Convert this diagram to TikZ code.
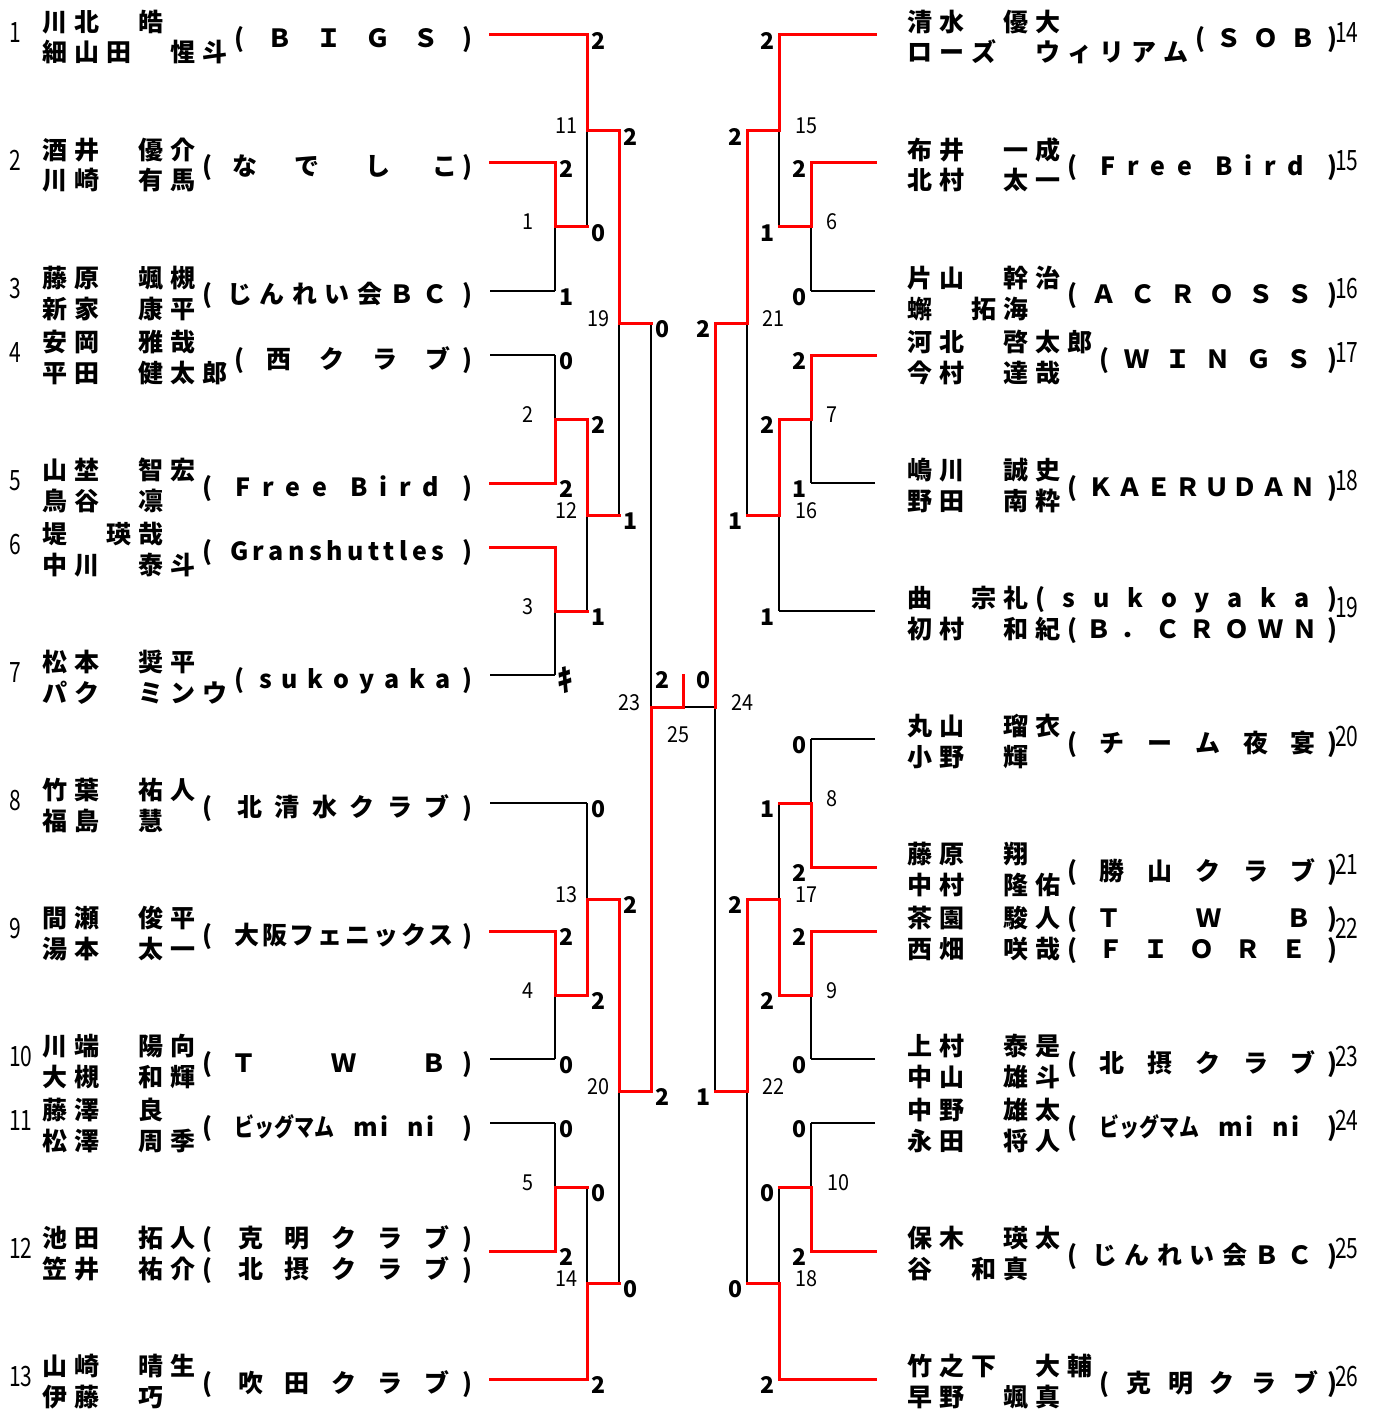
\documentclass[tikz,border=0pt]{standalone}
\usepackage{fontspec}
\usepackage{graphicx}
\newfontfamily\jp{Noto Sans CJK JP}
\newfontfamily\jpnum{Noto Sans CJK JP}[FakeStretch=0.75]
\newfontfamily\jplbl{Noto Sans CJK JP}[FakeStretch=0.9]
\makeatletter
\newcommand\grid[1]{\@tfor\grid@c:=#1\do{\makebox[32pt][l]{\grid@c}}}
\makeatother
\newcommand\gp{\hskip 0pt plus 1fill\relax}
\newcommand\sk[1]{\hskip 0pt plus #1fill\relax}
\newcommand\team[2]{\makebox[#1pt][s]{#2}}
\newcommand\bigmam{\scalebox{0.8}[1]{ビッグマム}}
\tikzset{
 lose/.style={draw=black, line width=1.3pt},
 win/.style={draw=red, line width=3pt, line cap=rect, line join=miter},
 nm/.style={inner sep=0pt, anchor=west, font=\jp\bfseries\fontsize{25pt}{25pt}\selectfont, text height=21.5pt, text depth=3.5pt},
 scL/.style={inner sep=0pt, anchor=west, font=\jp\bfseries\fontsize{23pt}{23pt}\selectfont, text height=16.8pt, text depth=0pt},
 scR/.style={scL, anchor=east},
 lbl/.style={inner sep=0pt, font=\jplbl\fontsize{22pt}{22pt}\selectfont, text height=16pt, text depth=0pt},
 eno/.style={inner sep=0pt, anchor=west, font=\jpnum\fontsize{28pt}{28pt}\selectfont, text height=20.5pt, text depth=0pt},
}
\newcommand\entry[9]{%
 \node[nm] (na#1) at (#2,#3-12.5) {\grid{#4}};
 \node[nm] (nb#1) at (#2,#3+18) {\grid{#5}};
 \node[nm] (t#1) at (#6,#3+4) {\team{#7}{#8}};
 \node[eno] (no#1) at (#9,#3-3) {#1};
}
\begin{document}
\begin{tikzpicture}[x=1pt,y=-1pt]
\fill[white] (0,0) rectangle (1381,1412);
\useasboundingbox (0,0) rectangle (1381,1412);

% entry line ends
\foreach \i/\L in {1/35,2/163,3/291,4/355,5/483,6/547,7/675,8/803,9/931,10/1059,11/1123,12/1251,13/1379}
  \coordinate (e\i) at (490,\L);
\foreach \i/\L in {14/35,15/163,16/291,17/355,18/483,19/611,20/739,21/867,22/931,23/1059,24/1123,25/1251,26/1379}
  \coordinate (e\i) at (875,\L);

% matches
\foreach \n/\x/\t/\b in {1/555/163/291,2/555/355/483,3/555/547/675,4/555/931/1059,5/555/1123/1251,
  11/587/35/227,12/587/419/611,13/587/803/995,14/587/1187/1379,19/619/131/515,20/619/899/1283,23/651/323/1091,
  6/811/163/291,7/811/355/483,8/811/739/867,9/811/931/1059,10/811/1123/1251,
  15/779/35/227,16/779/419/611,17/779/803/995,18/779/1187/1379,21/747/131/515,22/747/899/1283,24/715/323/1091}
{
  \coordinate (m\n-t) at (\x,\t);
  \coordinate (m\n-b) at (\x,\b);
  \coordinate (m\n-m) at (\x,{(\t+\b)/2});
}
\coordinate (fc) at (683,707);
\coordinate (fk) at (683,675);

% black lines
\foreach \n in {1,2,3,4,5,11,12,13,14,19,20,23,6,7,8,9,10,15,16,17,18,21,22,24}
  \draw[lose] (m\n-t) -- (m\n-b);
\foreach \e/\m in {3/m1-b,4/m2-t,7/m3-b,8/m13-t,10/m4-b,11/m5-t,16/m6-b,18/m7-b,19/m16-b,20/m8-t,23/m9-b,24/m10-t}
  \draw[lose] (e\e) -- (\m);
\draw[lose] (m23-m) -- (m24-m);

% red lines
\foreach \e/\m in {1/m11-t,2/m1-t,5/m2-b,6/m3-t,9/m4-t,12/m5-b,13/m14-b,14/m15-t,15/m6-t,17/m7-t,21/m8-b,22/m9-t,25/m10-b,26/m18-b}
  \draw[win] (e\e) -- (\m);
\foreach \n/\w in {1/t,2/b,3/t,4/t,5/b,11/t,12/t,13/b,14/b,19/t,20/t,23/b,6/t,7/t,8/b,9/t,10/b,15/t,16/t,17/b,18/b,21/t,22/t,24/t}
  \draw[win] (m\n-\w) -- (m\n-m);
\foreach \c/\p in {1/11-b,2/12-t,3/12-b,4/13-b,5/14-t,11/19-t,12/19-b,13/20-t,14/20-b,19/23-t,20/23-b,
  6/15-b,7/16-t,8/17-t,9/17-b,10/18-t,15/21-t,16/21-b,17/22-t,18/22-b,21/24-t,22/24-b}
  \draw[win] (m\c-m) -- (m\p);
\draw[win] (m23-m) -- (fc) -- (fk);

% scores
\foreach \n/\a/\b in {1/2/1,2/0/2,4/2/0,5/0/2,11/2/0,12/2/1,13/0/2,14/0/2,19/2/1,20/2/0,23/0/2}{
  \node[scL] (sc\n-t) at ([shift={(4,6)}]m\n-t) {\a};
  \node[scL] (sc\n-b) at ([shift={(4,6)}]m\n-b) {\b};
}
\node[scL] (sc3-b) at ([shift={(2,8)}]m3-b) {\scalebox{1.35}{ｷ}};
\foreach \n/\a/\b in {6/2/0,7/2/1,8/0/2,9/2/0,10/0/2,15/2/1,16/2/1,17/1/2,18/0/2,21/2/1,22/2/0,24/2/1}{
  \node[scR] (sc\n-t) at ([shift={(-4,6)}]m\n-t) {\a};
  \node[scR] (sc\n-b) at ([shift={(-4,6)}]m\n-b) {\b};
}
\node[scL] (sc25-l) at ([shift={(4,-27)}]m23-m) {2};
\node[scR] (sc25-r) at ([shift={(-4,-27)}]m24-m) {0};

% match labels
\foreach \n/\x/\y in {1/528/222,2/528/414,3/528/606,4/528/990,5/528/1182,11/566/126,12/566/510,13/566/894,14/566/1278,
  19/598/318,20/598/1086,23/629/702,6/832/222,7/832/414,8/832/798,9/832/990,10/838/1182,15/806/126,16/806/510,
  17/806/894,18/806/1278,21/773/318,22/773/1086,24/742/702,25/678/734}
  \node[lbl] (lb\n) at (\x,\y) {\n};

% left entries
\entry{1}{42}{35}{川北　皓}{細山田　惺斗}{234}{238}{(\gp Ｂ\gp Ｉ\gp Ｇ\gp Ｓ\gp)}{9}
\entry{2}{42}{163}{酒井　優介}{川崎　有馬}{202}{270}{(\sk{4}な\sk{7}で\sk{9}し\sk{8}こ\sk{1})}{9}
\entry{3}{42}{291}{藤原　颯槻}{新家　康平}{202}{270}{(\sk{2}じ\gp ん\gp れ\gp い\gp 会\gp Ｂ\gp Ｃ\sk{2})}{9}
\entry{4}{42}{355}{安岡　雅哉}{平田　健太郎}{234}{238}{(\sk{2}西\sk{2.5}ク\sk{2.5}ラ\sk{2.5}ブ\sk{1})}{9}
\entry{5}{42}{483}{山埜　智宏}{鳥谷　凛}{202}{270}{(\sk{2}F\gp r\gp e\gp e\sk{2}B\gp i\gp r\gp d\sk{2})}{9}
\entry{6}{42}{547}{堤　瑛哉}{中川　泰斗}{202}{270}{(\sk{4}G\gp r\gp a\gp n\gp s\gp h\gp u\gp t\gp t\gp l\gp e\gp s\sk{4})}{9}
\entry{7}{42}{675}{松本　奨平}{パク　ミンウ}{234}{238}{(\sk{1.5}s\gp u\gp k\gp o\gp y\gp a\gp k\gp a\sk{1.2})}{9}
\entry{8}{42}{803}{竹葉　祐人}{福島　慧}{202}{270}{(\sk{2}北\gp 清\gp 水\gp ク\gp ラ\gp ブ\gp)}{9}
\entry{9}{42}{931}{間瀬　俊平}{湯本　太一}{202}{270}{(\sk{8}大\gp 阪\gp フ\gp ェ\gp ニ\gp ッ\gp ク\gp ス\sk{3})}{9}
\entry{10}{42}{1059}{川端　陽向}{大槻　和輝}{202}{270}{(\sk{1.2}Ｔ\sk{4.7}Ｗ\sk{4.1}Ｂ\sk{1})}{9}
\entry{11}{42}{1123}{藤澤　良}{松澤　周季}{202}{270}{(\sk{8}\bigmam\sk{7}m\gp i\sk{7}n\gp i\sk{10})}{9}
\node[nm] (na12) at (42,1238.5) {\grid{池田　拓人}};
\node[nm] (t12a) at (202,1238.5) {\team{270}{(\sk{1.2}克\gp 明\gp ク\gp ラ\gp ブ\sk{0.6})}};
\node[nm] (nb12) at (42,1269) {\grid{笠井　祐介}};
\node[nm] (t12b) at (202,1269) {\team{270}{(\sk{1.2}北\gp 摂\gp ク\gp ラ\gp ブ\sk{0.6})}};
\node[eno] (no12) at (9,1248) {12};
\entry{13}{42}{1379}{山崎　晴生}{伊藤　巧}{202}{270}{(\sk{1.2}吹\gp 田\gp ク\gp ラ\gp ブ\sk{0.6})}{9}

% right entries
\entry{14}{907}{35}{清水　優大}{ローズ　ウィリアム}{1195}{142}{(\gp Ｓ\gp Ｏ\gp Ｂ\gp)}{1335}
\entry{15}{907}{163}{布井　一成}{北村　太一}{1067}{270}{(\sk{2}F\gp r\gp e\gp e\sk{2}B\gp i\gp r\gp d\sk{2})}{1335}
\entry{16}{907}{291}{片山　幹治}{蠏　拓海}{1067}{270}{(\gp Ａ\gp Ｃ\gp Ｒ\gp Ｏ\gp Ｓ\gp Ｓ\gp)}{1335}
\entry{17}{907}{355}{河北　啓太郎}{今村　達哉}{1099}{238}{(\gp Ｗ\gp Ｉ\gp Ｎ\gp Ｇ\gp Ｓ\gp)}{1335}
\entry{18}{907}{483}{嶋川　誠史}{野田　南粋}{1067}{270}{(\sk{3}Ｋ\gp Ａ\gp Ｅ\gp Ｒ\gp Ｕ\gp Ｄ\gp Ａ\gp Ｎ\sk{3})}{1335}
\node[nm] (na19) at (907,598.5) {\grid{曲　宗礼}};
\node[nm] (t19a) at (1035,598.5) {\team{302}{(\gp s\gp u\gp k\gp o\gp y\gp a\gp k\gp a\gp)}};
\node[nm] (nb19) at (907,629) {\grid{初村　和紀}};
\node[nm] (t19b) at (1067,629) {\team{270}{(\gp Ｂ\gp ．\gp Ｃ\gp Ｒ\gp Ｏ\gp Ｗ\gp Ｎ\gp)}};
\node[eno] (no19) at (1335,607) {19};
\entry{20}{907}{739}{丸山　瑠衣}{小野　輝}{1067}{270}{(\gp チ\gp ー\gp ム\gp 夜\gp 宴\sk{0.5})}{1335}
\entry{21}{907}{867}{藤原　翔}{中村　隆佑}{1067}{270}{(\gp 勝\gp 山\gp ク\gp ラ\gp ブ\sk{0.5})}{1335}
\node[nm] (na22) at (907,918.5) {\grid{茶園　駿人}};
\node[nm] (t22a) at (1067,918.5) {\team{270}{(\sk{1.2}Ｔ\sk{4.7}Ｗ\sk{4.1}Ｂ\sk{1})}};
\node[nm] (nb22) at (907,949) {\grid{西畑　咲哉}};
\node[nm] (t22b) at (1067,949) {\team{270}{(\gp Ｆ\gp Ｉ\gp Ｏ\gp Ｒ\gp Ｅ\gp)}};
\node[eno] (no22) at (1335,928) {22};
\entry{23}{907}{1059}{上村　泰是}{中山　雄斗}{1067}{270}{(\gp 北\gp 摂\gp ク\gp ラ\gp ブ\sk{0.5})}{1335}
\entry{24}{907}{1123}{中野　雄太}{永田　将人}{1067}{270}{(\sk{8}\bigmam\sk{7}m\gp i\sk{7}n\gp i\sk{10})}{1335}
\entry{25}{907}{1251}{保木　瑛太}{谷　和真}{1067}{270}{(\sk{2}じ\gp ん\gp れ\gp い\gp 会\gp Ｂ\gp Ｃ\sk{2})}{1335}
\entry{26}{907}{1379}{竹之下　大輔}{早野　颯真}{1099}{238}{(\gp 克\gp 明\gp ク\gp ラ\gp ブ\sk{0.5})}{1335}
\end{tikzpicture}
\end{document}
